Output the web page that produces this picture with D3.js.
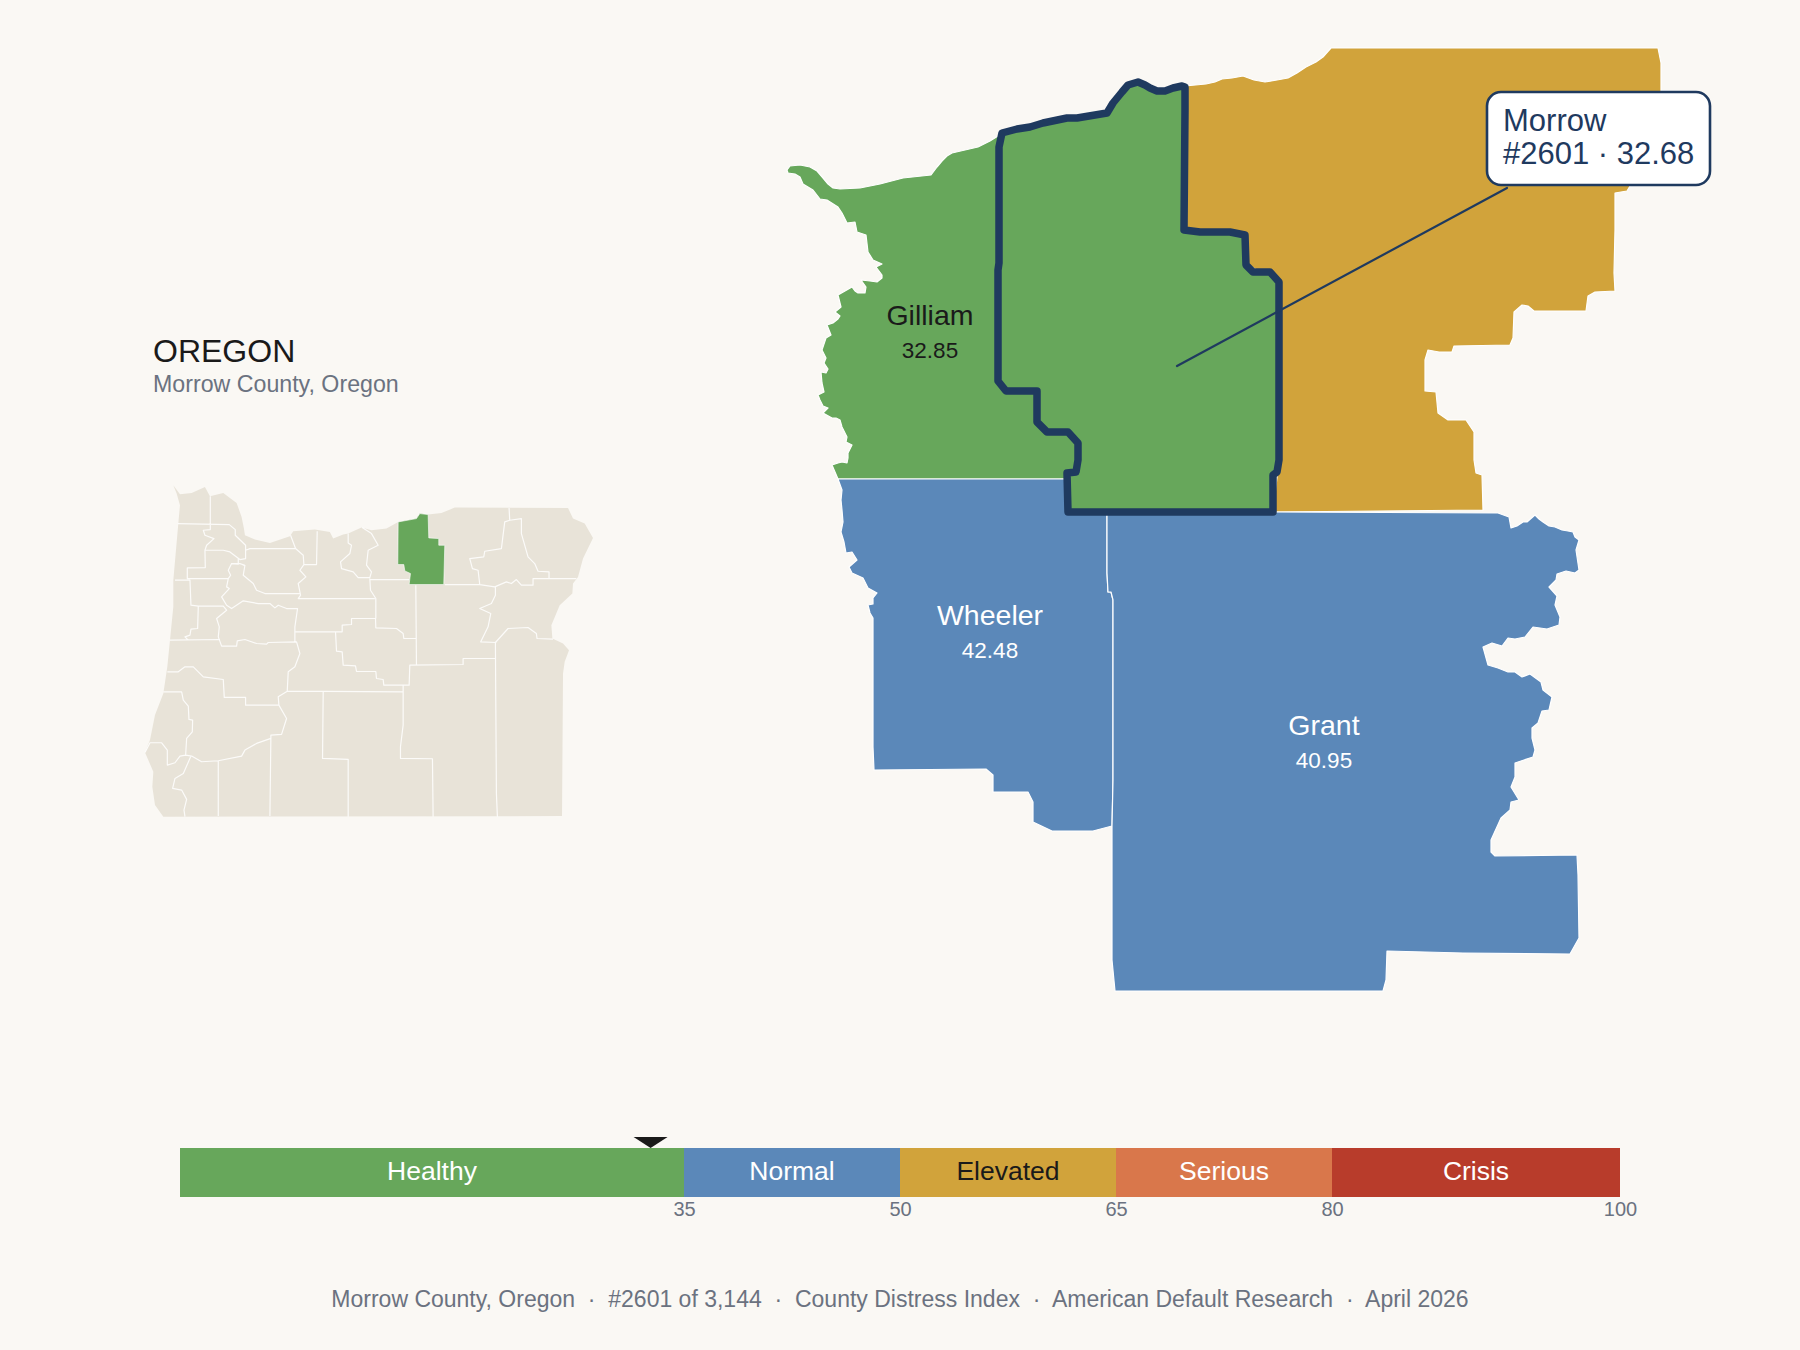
<!DOCTYPE html>
<html>
<head>
<meta charset="utf-8">
<title>Morrow County, Oregon</title>
<script src="https://cdn.jsdelivr.net/npm/d3@7"></script>
<style>
html, body { margin: 0; padding: 0; background: #faf8f4; }
svg { display: block; }
text { font-family: "Liberation Sans", Arial, sans-serif; }
</style>
</head>
<body>
<svg id="chart"></svg>
<script>
// Band scale
var bandNames = ["Healthy", "Normal", "Elevated", "Serious", "Crisis"];
var bandStarts = [0, 35, 50, 65, 80];
var bandEnds = [35, 50, 65, 80, 100];
var tickValues = [35, 50, 65, 80, 100];
var markerValue = 32.68;

// Labelled counties
var countyNames = ["Gilliam", "Wheeler", "Grant"];
var countyScores = [32.85, 42.48, 40.95];
var countyBands = ["Healthy", "Normal", "Normal"];
var focusName = "Morrow";
var focusRank = 2601;
var focusScore = 32.68;

// County outlines, traced, in map units
var gilliamOutline = [[787,170],[790,166],[800,165],[810,167],[817,171],[823,178],[828,184],[833,188],[840,189],[860,188],[880,184],[903,178],[931,175],[937,167],[942,161],[947,156],[952,153],[978,147],[990,141],[998,136],[1002,133],[999,147],[999,263],[998,270],[998,381],[1006,391],[1037,391],[1037,422],[1047,432],[1068,432],[1078,443],[1078,460],[1076,472],[1067,473],[1066,479],[838,479],[835,472],[832,465],[838,463],[842,462],[847,463],[848,458],[848,453],[852,445],[846,442],[847,437],[845,433],[842,427],[840,420],[836,418],[832,418],[823,413],[828,408],[823,406],[820,400],[818,395],[824,392],[822,383],[821,372],[826,373],[828,369],[824,363],[826,358],[822,350],[824,344],[826,338],[831,335],[827,325],[833,323],[838,319],[840,316],[835,312],[841,307],[838,295],[845,291],[852,287],[855,291],[858,293],[865,293],[866,287],[861,280],[870,281],[877,282],[882,278],[882,275],[876,267],[882,264],[873,260],[868,252],[866,235],[857,232],[855,222],[847,223],[842,213],[838,207],[827,200],[820,199],[813,190],[803,184],[800,177],[795,174],[788,173]];
var morrowOutline = [[1002,133],[1017,129],[1030,127],[1043,123],[1067,118],[1077,118],[1107,113],[1113,103],[1122,92],[1128,85],[1138,82],[1145,85],[1150,88],[1157,91],[1165,91],[1173,88],[1182,86],[1185,87],[1185,110],[1184,230],[1200,232],[1230,232],[1245,235],[1246,265],[1253,272],[1270,272],[1279,282],[1279,397],[1279,460],[1277,472],[1273,475],[1273,512],[1068,512],[1067,473],[1076,472],[1078,460],[1078,443],[1068,432],[1047,432],[1037,422],[1037,391],[1006,391],[998,381],[998,270],[999,263],[999,147]];
var umatillaOutline = [[1185,86],[1206,84],[1215,82],[1222,79],[1232,78],[1243,76],[1254,80],[1265,82],[1277,80],[1288,78],[1297,73],[1306,67],[1316,62],[1323,57],[1331,48],[1658,48],[1661,63],[1661,92],[1661,175],[1630,186],[1627,191],[1615,193],[1615,230],[1614,273],[1615,291],[1595,292],[1588,296],[1586,311],[1534,311],[1528,306],[1522,305],[1514,312],[1513,338],[1510,345],[1454,346],[1452,352],[1439,352],[1428,350],[1425,360],[1425,391],[1436,392],[1438,413],[1448,420],[1466,420],[1474,432],[1474,460],[1476,473],[1482,475],[1483,510],[1273,512],[1279,460],[1279,282],[1184,230]];
var wheelerOutline = [[838,479],[1066,479],[1068,512],[1107,512],[1107,573],[1108,592],[1111,592],[1113,600],[1113,780],[1112,826],[1093,831],[1052,831],[1033,822],[1033,802],[1028,792],[993,792],[993,775],[986,769],[874,770],[873,747],[873,618],[870,613],[868,605],[873,604],[873,598],[877,593],[868,588],[863,578],[852,573],[849,567],[857,560],[852,552],[846,553],[844,542],[841,532],[843,522],[842,510],[841,500],[842,490]];
var grantOutline = [[1107,512],[1273,512],[1498,513],[1509,517],[1511,528],[1517,526],[1523,522],[1527,522],[1535,515],[1539,519],[1543,522],[1549,526],[1555,527],[1562,530],[1568,531],[1573,532],[1575,537],[1579,540],[1576,550],[1579,570],[1575,573],[1566,571],[1557,574],[1556,580],[1549,587],[1557,596],[1555,605],[1560,617],[1559,625],[1547,629],[1533,627],[1525,637],[1515,639],[1508,638],[1502,646],[1492,643],[1483,647],[1488,665],[1498,668],[1508,672],[1515,672],[1522,677],[1530,674],[1541,682],[1543,690],[1552,697],[1549,710],[1542,711],[1538,723],[1532,728],[1532,738],[1535,750],[1533,757],[1515,763],[1515,777],[1511,787],[1519,800],[1511,802],[1510,810],[1501,818],[1491,840],[1491,852],[1495,856],[1577,855],[1578,875],[1579,938],[1570,954],[1463,953],[1387,951],[1386,980],[1383,991],[1115,991],[1112,960],[1112,826],[1113,780],[1113,600],[1111,592],[1108,592],[1107,573]];

// Leader end points, map units
var leaderStart = [1507,188];
var leaderEnd = [1177,366];

// State locator, traced, in its own units
var stateOutline = [[130,45],[150,72],[185,68],[225,50],[240,78],[280,68],[320,98],[335,140],[342,175],[345,195],[375,208],[420,218],[480,198],[490,183],[555,178],[600,185],[610,205],[640,193],[655,190],[695,172],[725,180],[770,175],[805,155],[860,145],[870,130],[895,133],[935,128],[975,112],[1315,113],[1330,145],[1365,160],[1390,203],[1360,265],[1345,320],[1330,340],[1328,370],[1290,405],[1265,465],[1268,505],[1300,520],[1318,540],[1305,575],[1300,610],[1297,1038],[100,1040],[75,1005],[67,950],[70,905],[45,847],[60,810],[75,735],[100,670],[112,590],[120,510],[130,410],[130,330],[145,160],[150,105],[140,70]];
var stateMorrow = [[805,155],[860,145],[870,130],[895,133],[897,203],[927,205],[927,225],[945,225],[942,343],[838,343],[842,310],[825,302],[822,283],[804,283]];
var stateBorders = [
  [[241,78],[241,178],[220,180],[225,195],[252,205],[230,225],[225,240],[226,292],[172,293],[172,325],[295,325]],
  [[143,160],[298,163],[316,178],[316,195],[347,225],[347,265],[330,268],[322,262],[300,245],[280,240],[226,240]],
  [[347,240],[360,235],[497,235],[520,255],[522,283],[510,300],[528,320],[505,340],[512,375],[505,385],[735,385]],
  [[482,195],[497,235]],
  [[562,183],[560,283],[522,283]],
  [[338,285],[345,285],[340,315],[370,340],[380,360],[405,370],[510,370]],
  [[305,280],[295,300],[302,315],[295,325],[290,350],[298,355],[275,380],[290,405],[305,415],[340,392],[385,400],[420,400],[435,413],[445,405],[470,415],[503,415],[495,470],[495,515]],
  [[325,265],[325,282],[305,280],[330,280],[345,285]],
  [[135,330],[180,330],[183,405],[205,408],[280,408],[290,420],[260,445],[268,470],[265,500],[275,528],[320,528],[322,512],[345,508],[380,520],[410,522],[415,517],[500,515],[510,550],[495,590],[475,605],[472,663],[445,680],[447,705],[470,745],[455,793],[423,795],[420,1038]],
  [[205,408],[203,475],[183,477],[180,495],[165,500],[175,510]],
  [[120,510],[270,508]],
  [[112,605],[145,605],[165,590],[190,590],[220,620],[280,628],[283,682],[347,682],[347,705],[447,705]],
  [[100,665],[155,665],[160,690],[175,708],[177,748],[188,750],[187,785],[170,805],[167,855],[185,858],[215,875],[265,872],[335,858],[345,840],[380,820],[423,805]],
  [[45,847],[60,818],[95,818],[112,840],[112,885],[135,878],[150,858],[167,855]],
  [[183,858],[160,910],[135,925],[128,955],[155,960],[170,988],[162,1020],[165,1040]],
  [[265,872],[265,1038]],
  [[472,663],[820,665],[820,765],[812,830],[812,865],[908,866],[910,1040]],
  [[580,665],[578,865],[655,868],[655,1040]],
  [[497,485],[637,485],[637,465],[665,463],[665,445],[737,445],[738,473],[800,475],[820,490],[822,505],[858,505]],
  [[617,485],[620,543],[637,545],[640,585],[677,587],[680,604],[738,604],[740,625],[760,628],[762,645],[838,645],[840,585],[1000,583],[1000,565],[1097,565]],
  [[820,645],[820,665]],
  [[858,345],[860,583]],
  [[720,325],[722,360],[738,385],[738,445]],
  [[720,328],[838,328]],
  [[655,190],[655,218],[665,225],[660,250],[632,275],[635,295],[670,305],[685,322],[720,322],[725,305],[710,285],[715,240],[745,225],[725,190],[697,172]],
  [[945,343],[1050,343],[1095,350],[1130,335],[1145,340],[1160,328],[1175,345],[1210,345],[1210,325],[1340,325]],
  [[1050,343],[1045,300],[1028,295],[1020,265],[1062,260],[1065,243],[1115,235],[1125,155],[1140,150],[1175,145],[1175,190],[1195,260],[1215,280],[1225,303],[1258,305],[1258,325]],
  [[1138,113],[1140,150]],
  [[1097,350],[1097,375],[1085,400],[1050,415],[1083,430],[1075,470],[1053,515],[1100,517]],
  [[1097,517],[1135,475],[1195,472],[1220,490],[1222,505],[1270,507]],
  [[1097,517],[1100,970],[1103,1040]]
];

var footerParts = ["Morrow County, Oregon", "#2601 of 3,144", "County Distress Index", "American Default Research", "April 2026"];

// ---------------------------------------------------------------
var w = 1800, h = 1350;
var bg = "#faf8f4", navy = "#1f3a5f", ink = "#1a1a1a", grey = "#6b7280";
var bandColor = d3.scaleOrdinal().domain(bandNames)
	.range(["#67a75b", "#5b88b9", "#d1a33b", "#d9774b", "#b83c2b"]);
var bandInk = d3.scaleOrdinal().domain(bandNames)
	.range(["#ffffff", "#ffffff", ink, "#ffffff", "#ffffff"]);

var svg = d3.select("#chart").attr("width", w).attr("height", h);
svg.append("rect").attr("width", w).attr("height", h).attr("fill", bg);

function poly(ring) {
	return { type: "Polygon", coordinates: [ring.concat([ring[0]])] };
}

// Main map
var mainShapes = [
	{ ring: umatillaOutline, band: "Elevated" },
	{ ring: gilliamOutline, band: "Healthy" },
	{ ring: wheelerOutline, band: "Normal" },
	{ ring: grantOutline, band: "Normal" }
];
var mainCollection = { type: "GeometryCollection", geometries: mainShapes.map(function(d) { return poly(d.ring); }) };
var mainProj = d3.geoIdentity().fitExtent([[787, 48], [1661, 991]], mainCollection);
var mainPath = d3.geoPath(mainProj);

svg.append("g").selectAll("path")
	.data(mainShapes)
	.enter()
	.append("path")
	.attr("d", function(d) { return mainPath(poly(d.ring)); })
	.attr("fill", function(d) { return bandColor(d.band); })
	.attr("stroke", "#ffffff")
	.attr("stroke-width", 1.2)
	.attr("stroke-linejoin", "round");

svg.append("path")
	.attr("d", mainPath(poly(morrowOutline)))
	.attr("fill", bandColor("Healthy"))
	.attr("stroke", navy)
	.attr("stroke-width", 7.5)
	.attr("stroke-linejoin", "round");

// Centres of the county labels, map units
var labelX = d3.scaleOrdinal().domain(countyNames).range([930, 990, 1324]);
var labelY = d3.scaleOrdinal().domain(countyNames).range([325, 625, 735]);

var labels = svg.append("g").selectAll("g")
	.data(countyNames)
	.enter()
	.append("g")
	.attr("text-anchor", "middle")
	.attr("fill", function(d, i) { return countyBands[i] == "Healthy" ? ink : "#ffffff"; })
	.attr("transform", function(d) {
		var p = mainProj([labelX(d), labelY(d)]);
		return "translate(" + p[0] + "," + p[1] + ")";
	});
labels.append("text").attr("font-size", 28.5).text(function(d) { return d; });
labels.append("text").attr("y", 33).attr("font-size", 22.5)
	.text(function(d, i) { return countyScores[i].toFixed(2); });

// Leader and callout
var a = mainProj(leaderStart), b = mainProj(leaderEnd);
svg.append("line")
	.attr("x1", a[0]).attr("y1", a[1]).attr("x2", b[0]).attr("y2", b[1])
	.attr("stroke", navy).attr("stroke-width", 2.2).attr("stroke-linecap", "round");

var callout = svg.append("g").attr("transform", "translate(1487,92)");
callout.append("rect")
	.attr("width", 223).attr("height", 93).attr("rx", 14)
	.attr("fill", "#ffffff").attr("stroke", navy).attr("stroke-width", 2.6);
callout.append("text").attr("x", 16).attr("y", 39).attr("font-size", 31).attr("fill", navy)
	.text(focusName);
callout.append("text").attr("x", 16).attr("y", 72).attr("font-size", 31).attr("fill", navy)
	.text("#" + focusRank + " \u00b7 " + focusScore.toFixed(2));

// Title
svg.append("text").attr("x", 153).attr("y", 362).attr("font-size", 32).attr("fill", ink).text("OREGON");
svg.append("text").attr("x", 153).attr("y", 392).attr("font-size", 23.2).attr("fill", grey).text("Morrow County, Oregon");

// Locator
var stateProj = d3.geoIdentity().fitExtent([[145, 485], [593, 817]], poly(stateOutline));
var statePath = d3.geoPath(stateProj);
var locator = svg.append("g");
locator.append("path").attr("d", statePath(poly(stateOutline))).attr("fill", "#e8e3d8");
locator.append("path")
	.attr("d", statePath({ type: "MultiLineString", coordinates: stateBorders }))
	.attr("fill", "none").attr("stroke", "#ffffff").attr("stroke-width", 1.2)
	.attr("stroke-linejoin", "round").attr("opacity", 0.85);
locator.append("path").attr("d", statePath(poly(stateMorrow)))
	.attr("fill", bandColor("Healthy")).attr("stroke", "#ffffff").attr("stroke-width", 0.6);

// Band bar
var barTop = 1148, barH = 49;
var x = d3.scaleLinear().domain([0, 100]).range([180, 1620]);

var bands = svg.append("g").selectAll("g")
	.data(bandNames)
	.enter()
	.append("g");
bands.append("rect")
	.attr("x", function(d, i) { return x(bandStarts[i]); })
	.attr("y", barTop)
	.attr("width", function(d, i) { return x(bandEnds[i]) - x(bandStarts[i]); })
	.attr("height", barH)
	.attr("fill", function(d) { return bandColor(d); });
bands.append("text")
	.attr("x", function(d, i) { return (x(bandStarts[i]) + x(bandEnds[i])) / 2; })
	.attr("y", barTop + 32)
	.attr("text-anchor", "middle")
	.attr("font-size", 26.5)
	.attr("fill", function(d) { return bandInk(d); })
	.text(function(d) { return d; });

var axis = svg.append("g")
	.attr("transform", "translate(0," + (barTop + barH) + ")")
	.call(d3.axisBottom(x).tickValues(tickValues).tickSize(0).tickPadding(5));
axis.select(".domain").remove();
axis.selectAll("text")
	.attr("font-family", '"Liberation Sans", Arial, sans-serif')
	.attr("font-size", 20)
	.attr("fill", grey);

// Marker
var mx = x(markerValue);
svg.append("path")
	.attr("d", d3.line()([[mx - 17, barTop - 11], [mx + 17, barTop - 11], [mx, barTop]]) + "Z")
	.attr("fill", ink);

// Footer
svg.append("text")
	.attr("x", 900).attr("y", 1307)
	.attr("text-anchor", "middle")
	.attr("font-size", 23)
	.attr("fill", grey)
	.style("white-space", "pre")
	.text(footerParts.join("  \u00b7  "));
</script>
</body>
</html>
